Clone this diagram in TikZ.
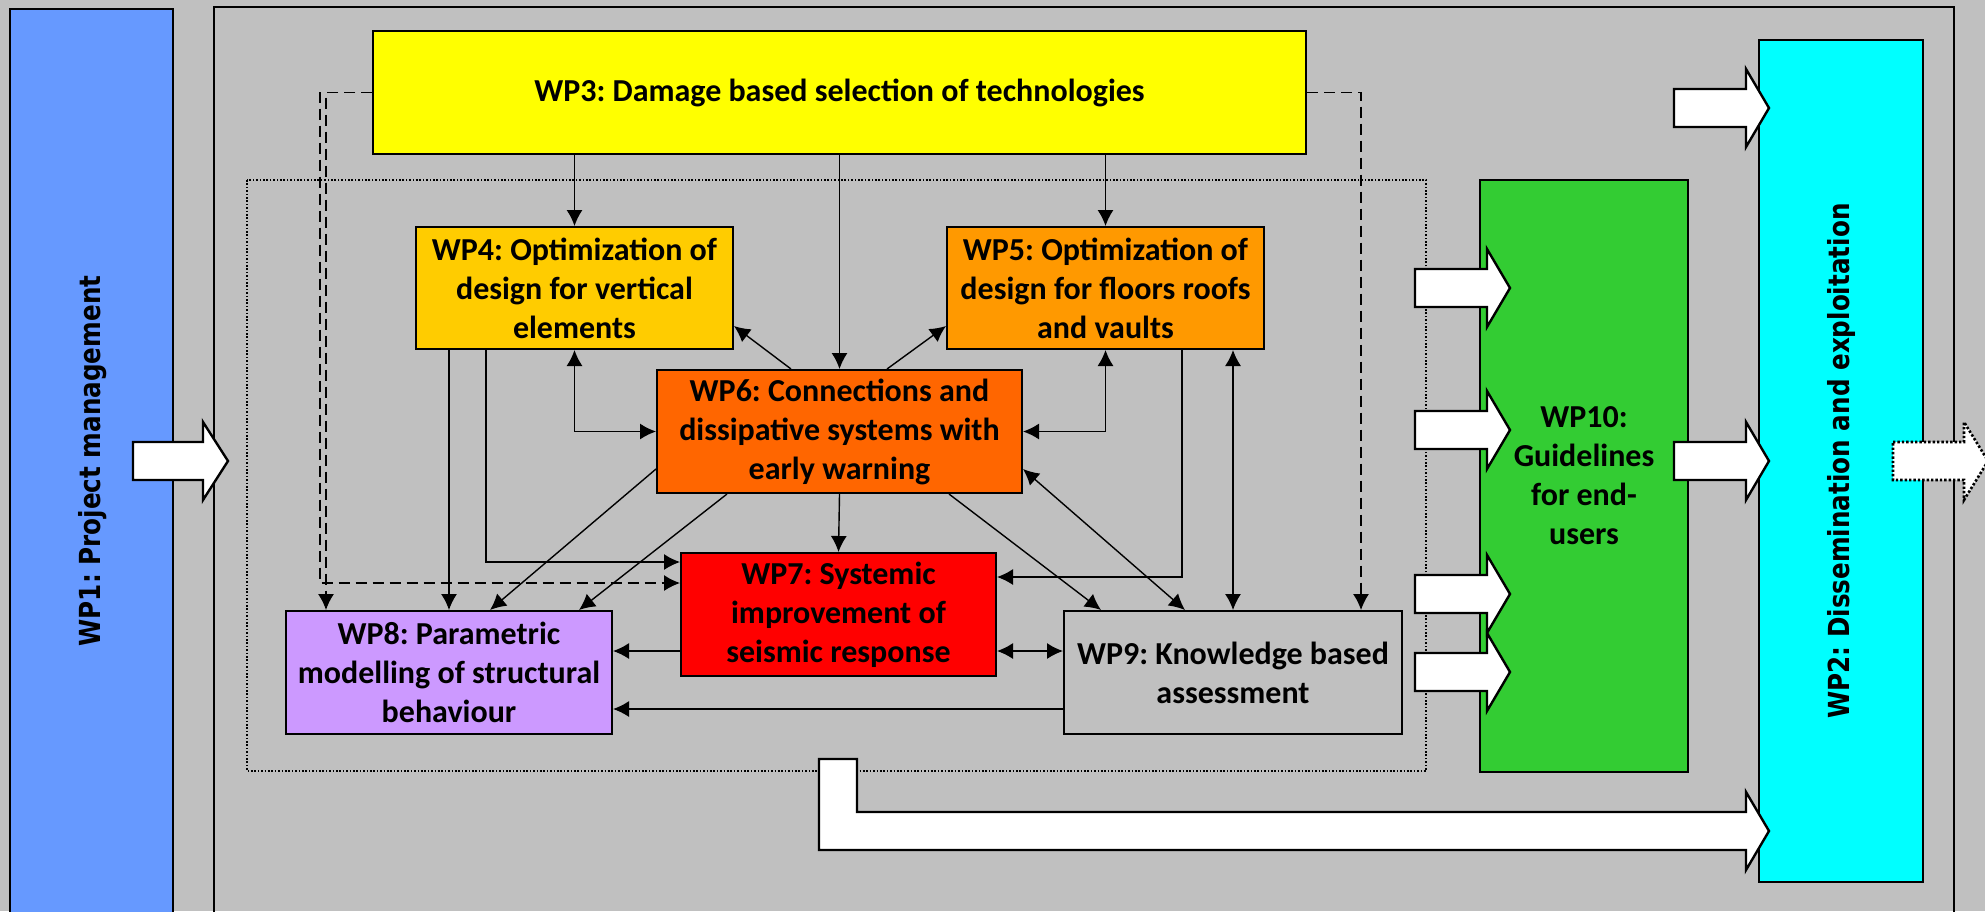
\documentclass[tikz,border=0pt]{standalone}
\usepackage{fontspec}
\usetikzlibrary{arrows.meta,calc}
\newfontfamily\boxfont{Carlito}
\newfontfamily\sidefont{DejaVu Sans}[FakeStretch=0.85]
\frenchspacing
\definecolor{bggrey}{HTML}{C0C0C0}
\definecolor{wpone}{HTML}{6699FF}
\definecolor{wptwo}{HTML}{00FFFF}
\definecolor{wpthree}{HTML}{FFFF00}
\definecolor{wpfour}{HTML}{FFCC00}
\definecolor{wpfive}{HTML}{FF9900}
\definecolor{wpsix}{HTML}{FF6600}
\definecolor{wpseven}{HTML}{FF0000}
\definecolor{wpeight}{HTML}{CC99FF}
\definecolor{wpten}{HTML}{33CC33}
\tikzset{
  wp/.style={draw=black, line width=1pt, align=center, inner sep=0pt, text=black,
    font=\boxfont\bfseries\fontsize{16}{19.5}\selectfont},
  sidetext/.style={rotate=90, text=black, inner sep=0pt,
    font=\sidefont\bfseries\fontsize{14.5}{17}\selectfont},
  conn/.style={line width=0.7pt, -{Latex[length=8pt,width=8pt]}},
  bidir/.style={line width=0.7pt, {Latex[length=8pt,width=8pt]}-{Latex[length=8pt,width=8pt]}},
  dashconn/.style={conn, dash pattern=on 5.5pt off 3pt},
  blockarrow/.style={fill=white, draw=black, line width=1.2pt, line join=miter},
  dottedarrow/.style={blockarrow, line width=1.3pt, dash pattern=on 1.2pt off 1pt},
  dottedframe/.style={draw=black, line width=0.8pt, dash pattern=on 0.8pt off 0.9pt},
}
\newcommand\wparrow[5][]{\draw[blockarrow,#1] (#2,#5-19) -- (#3,#5-19) -- (#3,#5-39) -- (#4,#5) -- (#3,#5+39) -- (#3,#5+19) -- (#2,#5+19) -- cycle;}
\begin{document}
\begin{tikzpicture}[x=0.5pt,y=-0.5pt]
\useasboundingbox (0,0) rectangle (1985,911);
\clip (0,0) rectangle (1985,911);
\fill[bggrey] (0,0) rectangle (1985,911);

% WP1 column
\node[draw=black, line width=1pt, fill=wpone, minimum width=81.5pt, minimum height=463pt, inner sep=0pt] (wp1) at (91.5,472) {};
\node[sidetext] (wp1t) at (92.5,461) {WP1: Project management};

% outer frame
\draw[line width=1.2pt] (214,935) -- (214,7) -- (1954,7) -- (1954,935);

% dotted region
\draw[dottedframe] (247,180) rectangle (1426,771);

% boxes
\node[wp, fill=wpthree, minimum width=466.5pt, minimum height=61.5pt] (wp3) at (839.5,92.5) {WP3: Damage based selection of technologies};
\node[wp, fill=wpfour, minimum width=158.5pt, minimum height=61pt] (wp4) at (574.5,288) {WP4: Optimization of\\design for vertical\\elements};
\node[wp, fill=wpfive, minimum width=158.5pt, minimum height=61pt] (wp5) at (1105.5,288) {WP5: Optimization of\\design for floors roofs\\and vaults};
\node[wp, fill=wpsix, minimum width=182.5pt, minimum height=61.5pt] (wp6) at (839.5,431.5) {WP6: Connections and\\dissipative systems with\\early warning};
\node[wp, fill=wpseven, minimum width=157.5pt, minimum height=61.5pt] (wp7) at (838.5,614.5) {WP7: Systemic\\improvement of\\seismic response};
\node[wp, fill=wpeight, minimum width=163pt, minimum height=61.5pt] (wp8) at (449,672.5) {WP8: Parametric\\modelling of structural\\behaviour};
\node[wp, fill=bggrey, minimum width=169pt, minimum height=61.5pt] (wp9) at (1233,672.5) {WP9: Knowledge based\\assessment};
\node[wp, fill=wpten, minimum width=104pt, minimum height=296pt] (wp10) at (1584,476) {WP10:\\Guidelines\\for end-\\users};
\node[draw=black, line width=1pt, fill=wptwo, minimum width=82pt, minimum height=421pt, inner sep=0pt] (wp2) at (1841,461) {};
\node[sidetext] (wp2t) at (wp2.center) {WP2: Dissemination and exploitation};

% connectors from WP3
\draw[conn] (wp3.south -| wp4.north) -- (wp4.north);
\draw[conn] (wp3.south) -- (wp6.north);
\draw[conn] (wp3.south -| wp5.north) -- (wp5.north);
\coordinate (dl) at (320,583);
\draw[dashconn] (wp3.west) -| ($(wp8.north west)+(41,0)$);
\draw[dashconn] (wp3.west) -| (dl) -- (dl -| wp7.west);
\draw[dashconn] (wp3.east) -| ($(wp9.north west)+(298,0)$);

% connectors around WP6
\draw[conn] ($(wp6.north west)+(135,0)$) -- ($(wp4.south east)+(0,-24)$);
\draw[conn] ($(wp6.north west)+(231,0)$) -- ($(wp5.south west)+(0,-24)$);
\draw[bidir] (wp4.south) |- (wp6.west);
\draw[bidir] (wp5.south) |- (wp6.east);
\draw[conn] (wp6.south) -- (wp7.north);
\draw[conn] ($(wp6.south west)+(0,-25)$) -- ($(wp8.north west)+(205,0)$);
\draw[conn] ($(wp6.south west)+(71,0)$) -- ($(wp8.north west)+(294,0)$);
\draw[conn] ($(wp6.south west)+(293,0)$) -- ($(wp9.north west)+(38,0)$);
\draw[bidir] ($(wp6.south east)+(0,-25)$) -- ($(wp9.north west)+(122,0)$);

% WP4 / WP5 downward
\draw[conn] (wp4.south -| wp8.north) -- (wp8.north);
\draw[conn] ($(wp4.south west)+(71,0)$) |- ($(wp7.north west)+(0,10)$);
\draw[conn] ($(wp5.south west)+(236,0)$) |- ($(wp7.north east)+(0,25)$);
\draw[bidir] (wp5.south -| wp9.north) -- (wp9.north);

% bottom row
\coordinate (c7) at ($(wp7.south west)+(0,-26)$);
\draw[conn] (c7) -- (c7 -| wp8.east);
\coordinate (c7e) at ($(wp7.south east)+(0,-26)$);
\draw[bidir] (c7e) -- (c7e -| wp9.west);
\coordinate (c9) at ($(wp9.south west)+(0,-26)$);
\draw[conn] (c9) -- (c9 -| wp8.east);

% block arrows
\wparrow{133}{203}{228}{461}
\wparrow{1674}{1746}{1769}{108}
\wparrow{1674}{1746}{1769}{461}
\wparrow{1415}{1487}{1510}{288}
\wparrow{1415}{1487}{1510}{430}
\wparrow{1415}{1487}{1510}{594}
\wparrow{1415}{1487}{1510}{672}
\wparrow[dottedarrow]{1893}{1964}{1988}{461}
\draw[blockarrow] (819,759) -- (857,759) -- (857,812) -- (1746,812) -- (1746,792) -- (1769,831) -- (1746,870) -- (1746,850) -- (819,850) -- cycle;
\end{tikzpicture}
\end{document}
